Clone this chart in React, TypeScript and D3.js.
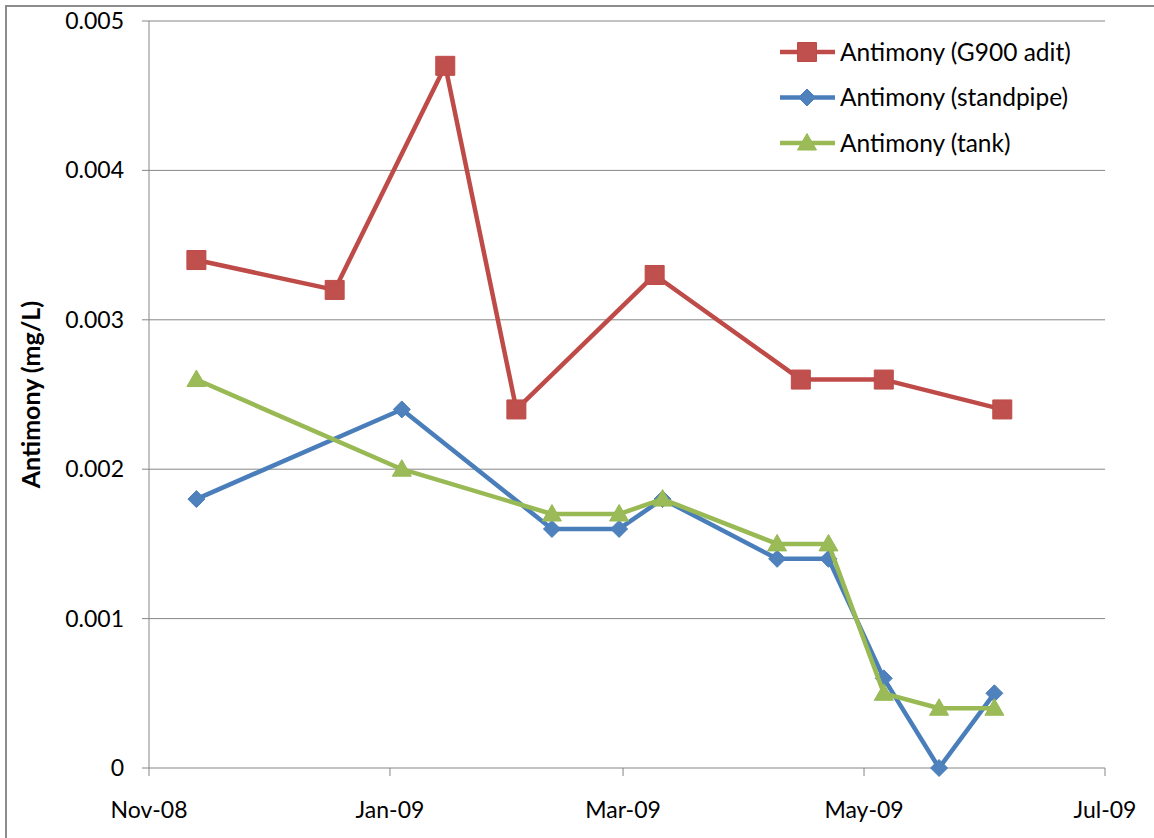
import React from "react";
import * as d3 from "d3";

const aditDates = ["2008-11-13", "2008-12-18", "2009-01-15", "2009-02-02", "2009-03-09", "2009-04-15", "2009-05-06", "2009-06-05"];
const aditValues = [0.0034, 0.0032, 0.0047, 0.0024, 0.0033, 0.0026, 0.0026, 0.0024];

const sharedDates = ["2008-11-13", "2009-01-04", "2009-02-11", "2009-02-28", "2009-03-11", "2009-04-09", "2009-04-22", "2009-05-06", "2009-05-20", "2009-06-03"];
const standpipeValues = [0.0018, 0.0024, 0.0016, 0.0016, 0.0018, 0.0014, 0.0014, 0.0006, 0, 0.0005];
const tankValues = [0.0026, 0.002, 0.0017, 0.0017, 0.0018, 0.0015, 0.0015, 0.0005, 0.0004, 0.0004];

const xTickDates = ["2008-11-01", "2009-01-01", "2009-03-01", "2009-05-01", "2009-07-01"];
const yTicks = [0, 0.001, 0.002, 0.003, 0.004, 0.005];
const seriesNames = ["Antimony (G900 adit)", "Antimony (standpipe)", "Antimony (tank)"];

const parse = d3.utcParse("%Y-%m-%d");
const fmt = d3.utcFormat("%b-%y");

const W = 1154;
const H = 838;
const left = 149;
const right = 1105;
const top = 21;
const bottom = 768;
const FONT = "Lato, 'Open Sans', sans-serif";

type Pt = { d: Date; v: number };

function markerPath(kind: string): string {
  if (kind === "square") return "M-9.5,-9.5H9.5V9.5H-9.5Z";
  if (kind === "diamond") return "M0,-8.5L8.5,0L0,8.5L-8.5,0Z";
  return "M0,-9.5L9.5,7L-9.5,7Z";
}

export default function App() {
  const x = d3.scaleUtc().domain([parse(xTickDates[0])!, parse(xTickDates[xTickDates.length - 1])!]).range([left, right]);
  const y = d3.scaleLinear().domain([0, 0.005]).range([bottom, top]);
  const line = d3.line<Pt>().x((p) => x(p.d)).y((p) => y(p.v));

  const series = [
    { name: seriesNames[0], pts: aditDates.map((s, i) => ({ d: parse(s)!, v: aditValues[i] })), line: "#BE4B48", fill: "#C0504D", marker: "square" },
    { name: seriesNames[1], pts: sharedDates.map((s, i) => ({ d: parse(s)!, v: standpipeValues[i] })), line: "#4A7EBB", fill: "#4F81BD", marker: "diamond" },
    { name: seriesNames[2], pts: sharedDates.map((s, i) => ({ d: parse(s)!, v: tankValues[i] })), line: "#98B954", fill: "#9BBB59", marker: "triangle" },
  ];

  const grid = "#868686";

  return (
    <svg width={W} height={H} style={{ position: "absolute", left: 0, top: 0, background: "#fff" }} fontFamily={FONT}>
      <rect x={6} y={6} width={W + 20} height={H + 20} fill="#fff" stroke="#8c8c8c" strokeWidth={2} />
      {yTicks.map((t) => (
        <g key={"y" + t}>
          <line x1={left - 7} x2={right} y1={y(t)} y2={y(t)} stroke={grid} strokeWidth={1} />
          <text x={124} y={y(t)} dy="0.35em" textAnchor="end" fontSize={23} fill="#000">
            {t === 0 ? "0" : d3.format(".3f")(t)}
          </text>
        </g>
      ))}
      <line x1={left} x2={left} y1={top} y2={bottom} stroke={grid} strokeWidth={1} />
      {xTickDates.map((s) => {
        const d = parse(s)!;
        return (
          <g key={s}>
            <line x1={x(d)} x2={x(d)} y1={bottom} y2={bottom + 8} stroke={grid} strokeWidth={1} />
            <text x={x(d)} y={818} textAnchor="middle" fontSize={23} fill="#000">
              {fmt(d)}
            </text>
          </g>
        );
      })}
      <text transform={`translate(40,${(top + bottom) / 2}) rotate(-90)`} textAnchor="middle" fontSize={25} fontWeight="bold" fill="#000">
        Antimony (mg/L)
      </text>
      {series.map((s) => (
        <g key={s.name}>
          <path d={line(s.pts) || ""} fill="none" stroke={s.line} strokeWidth={4.5} strokeLinejoin="round" />
          {s.pts.map((p, i) => (
            <path key={i} d={markerPath(s.marker)} transform={`translate(${x(p.d)},${y(p.v)})`} fill={s.fill} stroke={s.line} strokeWidth={1} />
          ))}
        </g>
      ))}
      {series.map((s, i) => {
        const cy = 52 + i * 45.5;
        return (
          <g key={"lg" + i}>
            <line x1={780} x2={835} y1={cy} y2={cy} stroke={s.line} strokeWidth={4.5} />
            <path d={markerPath(s.marker)} transform={`translate(807,${cy})`} fill={s.fill} stroke={s.line} strokeWidth={1} />
            <text x={840} y={cy} dy="0.35em" fontSize={24.5} fill="#000">
              {s.name}
            </text>
          </g>
        );
      })}
    </svg>
  );
}
